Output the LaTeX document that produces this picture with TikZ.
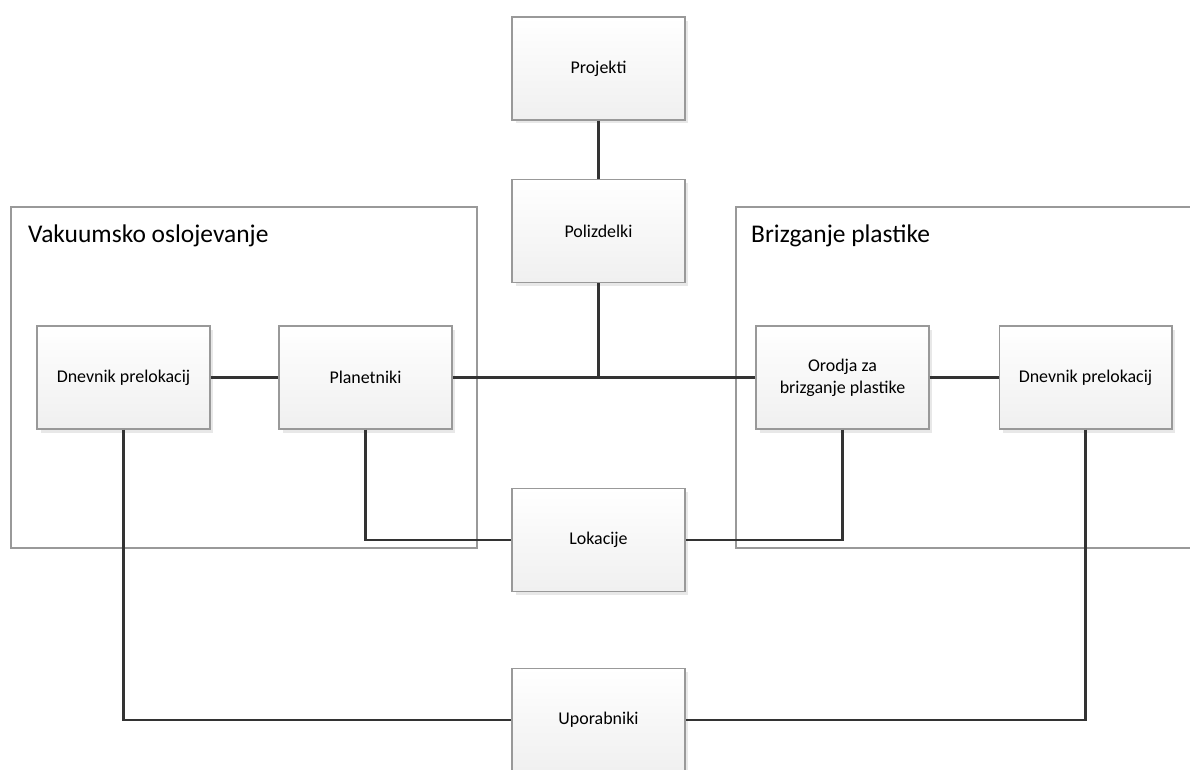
\documentclass[tikz,border=0pt]{standalone}
\usepackage{fontspec}
\setmainfont{Carlito}
\usepackage{tikz}
\usetikzlibrary{positioning,calc,shadows}
\tikzset{
    entity/.style={
        draw=gray!80,
        line width=0.6pt,
        top color=white,
        bottom color=gray!12,
        minimum width=3.46cm,
        minimum height=2.06cm,
        align=center,
        font=\fontsize{10.2}{12.5}\selectfont,
        drop shadow={shadow xshift=0.07cm, shadow yshift=-0.07cm, fill=gray!18, opacity=1}
    },
    groupBox/.style={
        draw=gray!80,
        line width=0.6pt,
        fill=white
    },
    groupTitle/.style={
        font=\fontsize{14.5}{17}\selectfont,
        anchor=west
    },
    link/.style={
        draw=black!80,
        line width=1.4pt
    }
}

\begin{document}
\begin{tikzpicture}[x=0.02cm, y=-0.02cm]
    \clip (0,0) rectangle (1190,769);
    \fill[white] (0,0) rectangle (1190,769);

    % Groups
    \draw[groupBox] (11,207) rectangle (477,548);
    \node[groupTitle] (vakTitle) at (22,236) {Vakuumsko oslojevanje};
    \draw[groupBox] (736,207) rectangle (1210,548);
    \node[groupTitle] (brizTitle) at (745,236) {Brizganje plastike};

    % Entities
    \node[entity] (projekti) at (598.5,68.5) {Projekti};
    \node[entity] (polizdelki) at (598.5,231) {Polizdelki};
    \node[entity] (dnevnikL) at (123.5,377.5) {Dnevnik prelokacij};
    \node[entity] (planetniki) at (365.5,377.5) {Planetniki};
    \node[entity] (orodja) at (842.5,377.5) {Orodja za\\brizganje plastike};
    \node[entity] (dnevnikR) at (1085.5,377.5) {Dnevnik prelokacij};
    \node[entity] (lokacije) at (598.5,540) {Lokacije};
    \node[entity] (uporabniki) at (598.5,720) {Uporabniki};

    % Connectors
    \draw[link] (projekti) -- (polizdelki);
    \draw[link] (polizdelki.south) -- (polizdelki.south |- planetniki.east);
    \draw[link] (planetniki) -- (orodja);
    \draw[link] (dnevnikL) -- (planetniki);
    \draw[link] (orodja) -- (dnevnikR);
    \draw[link] (planetniki.south) |- (lokacije.west);
    \draw[link] (orodja.south) |- (lokacije.east);
    \draw[link] (dnevnikL.south) |- (uporabniki.west);
    \draw[link] (dnevnikR.south) |- (uporabniki.east);

\end{tikzpicture}
\end{document}
